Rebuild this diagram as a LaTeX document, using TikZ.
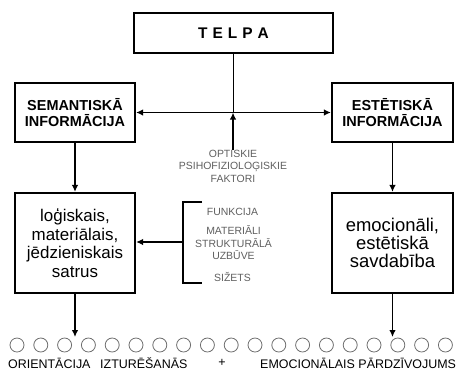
\documentclass[tikz,border=0pt]{standalone}
\usepackage{fontspec}
\setmainfont{Liberation Sans}
\usetikzlibrary{arrows.meta}
\definecolor{txtgray}{RGB}{95,95,95}
\definecolor{circgray}{RGB}{110,110,110}
\begin{document}
\begin{tikzpicture}[x=1bp,y=-1bp,
  box/.style={draw, line width=2.1bp, rectangle, inner sep=0pt, align=center},
  tip/.style={-{Latex[length=7bp,width=6.5bp]}},
  conn/.style={line width=1.8bp, tip},
  plain/.style={line width=1.8bp},
  graytxt/.style={text=txtgray, font=\fontsize{10.5}{12.5}\selectfont, align=center, inner sep=0pt},
  bottxt/.style={font=\fontsize{12.5}{14}\selectfont, inner sep=0pt, anchor=west},
  dot/.style={circle, draw=circgray, line width=0.8bp, minimum size=14bp, inner sep=0pt}
]
\useasboundingbox (0,0) rectangle (459,378);
\node[box, minimum width=199bp, minimum height=40bp] (telpa) at (233.5,33)
  {\fontsize{15.5}{18}\selectfont\bfseries T\hspace{5bp}E\hspace{5bp}L\hspace{5bp}P\hspace{5bp}A};
\node[box, minimum width=120bp, minimum height=59bp, font=\fontsize{14.5}{16}\selectfont\bfseries] (sem) at (75,112.5) {SEMANTISKĀ\\INFORMĀCIJA};
\node[box, minimum width=121bp, minimum height=59bp, font=\fontsize{14.5}{16}\selectfont\bfseries] (est) at (392.5,112.5) {ESTĒTISKĀ\\INFORMĀCIJA};
\node[box, minimum width=120bp, minimum height=100bp, font=\fontsize{17}{18.5}\selectfont] (log) at (75,243) {loģiskais,\\materiālais,\\jēdzieniskais\\satrus};
\node[box, minimum width=121bp, minimum height=100bp, font=\fontsize{18.5}{18}\selectfont] (emo) at (392.5,243) {emocionāli,\\estētiskā\\savdabība};

\node[graytxt] (opt) at (233,166) {OPTISKIE\\PSIHOFIZIOLOĢISKIE\\FAKTORI};
\node[graytxt] (funk) at (232.5,212) {FUNKCIJA};
\node[graytxt] (mat) at (233.5,243) {MATERIĀLI\\STRUKTURĀLĀ\\UZBŪVE};
\node[graytxt] (siz) at (232.5,277) {SIŽETS};

% connectors
\draw[plain] (telpa.south) -- (telpa.south |- sem.east);
\draw[line width=1.8bp, {Latex[length=7bp,width=6.5bp]}-{Latex[length=7bp,width=6.5bp]}] (sem.east) -- (est.west);
\draw[conn] (opt.north) -- (opt.north |- sem.east);
\draw[conn] (sem.south) -- (log.north);
\draw[conn] (est.south) -- (emo.north);

% bracket
\coordinate (bt) at (202,202);
\coordinate (bb) at (202,283);
\coordinate (bm) at (183,242);
\draw[plain] (bt) -- (bm |- bt) -- (bm |- bb) -- (bb);
\draw[conn] (bm) -- (bm -| log.east);

% circles
\foreach \i in {0,...,18} {
  \node[dot] (c\i) at ({17+23.8*\i},345) {};
}
\coordinate (la) at (75,337);
\coordinate (ra) at (392.5,337);
\draw[conn] (log.south) -- (la);
\draw[conn] (emo.south) -- (ra);

% bottom labels
\node[bottxt] (or) at (8,363) {ORIENTĀCIJA};
\node[bottxt] (iz) at (100,363) {IZTURĒŠANĀS};
\node[bottxt, anchor=center] (plus) at (222,363) {+};
\node[bottxt] (em) at (260,363) {EMOCIONĀLAIS PĀRDZĪVOJUMS};
\end{tikzpicture}
\end{document}
